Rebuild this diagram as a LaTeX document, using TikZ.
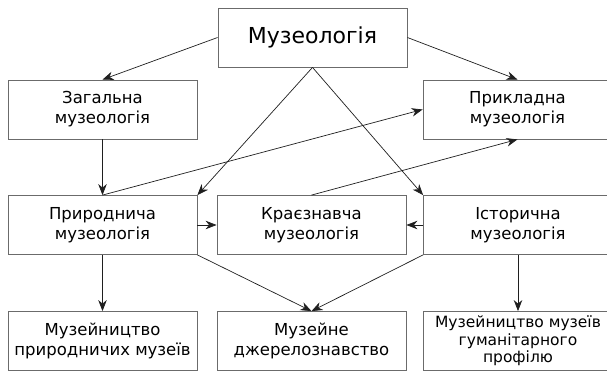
\documentclass[tikz,border=0pt]{standalone}
\usepackage{fontspec}
\setmainfont{DejaVu Sans}
\usetikzlibrary{arrows.meta}
\definecolor{BoxClr}{rgb}{0.42,0.42,0.42}
\definecolor{LineClr}{rgb}{0.12,0.12,0.12}

\begin{document}
\begin{tikzpicture}[x=1pt,y=-1pt,
  box/.style={draw=BoxClr,line width=0.8pt,minimum width=189pt,minimum height=59pt,
    inner sep=0pt,align=center,font=\fontsize{16.5}{20}\selectfont},
  link/.style={-{Stealth[length=11pt,width=8.5pt,inset=3.5pt]},line width=0.7pt,color=LineClr}]
\useasboundingbox (0,0) rectangle (607,371);

% Κόμβοι: η κορυφή και οι τρεις σειρές.
\node[box,font=\fontsize{22}{26}\selectfont] (muzeol) at (312.5,37.5) {Музеологія};

\node[box] (zahal) at (102.5,109.5) {Загальна\\музеологія};
\node[box] (prykl) at (517.5,109.5) {Прикладна\\музеологія};

\node[box] (pryrod) at (102.5,225) {Природнича\\музеологія};
\node[box] (kraj) at (311.5,225) {Краєзнавча\\музеологія};
\node[box] (istor) at (518,225) {Історична\\музеологія};

\node[box] (muzpryr) at (102.5,341) {Музейництво\\природничих музеїв};
\node[box] (dzherel) at (311.5,341) {Музейне\\джерелознавство};
\node[box,font=\fontsize{15.5}{17.5}\selectfont] (muzhum) at (518,341) {Музейництво музеїв\\гуманітарного\\профілю};

% Σύνδεσμοι από την κορυφή.
\draw[link] (muzeol.west) -- (zahal.north);
\draw[link] (muzeol.east) -- (prykl.north);
\draw[link] (muzeol.south) -- (pryrod.north east);
\draw[link] (muzeol.south) -- (istor.north west);

% Σύνδεσμοι της μεσαίας σειράς.
\draw[link] (zahal.south) -- (pryrod.north);
\draw[link] (pryrod.north) -- (prykl.west);
\draw[link] (kraj.north) -- (prykl.south);
\draw[link] (pryrod.east) -- (kraj.west);
\draw[link] (istor.west) -- (kraj.east);

% Σύνδεσμοι προς την κάτω σειρά.
\draw[link] (pryrod.south) -- (muzpryr.north);
\draw[link] (pryrod.south east) -- (dzherel.north);
\draw[link] (istor.south west) -- (dzherel.north);
\draw[link] (istor.south) -- (muzhum.north);

\end{tikzpicture}
\end{document}
